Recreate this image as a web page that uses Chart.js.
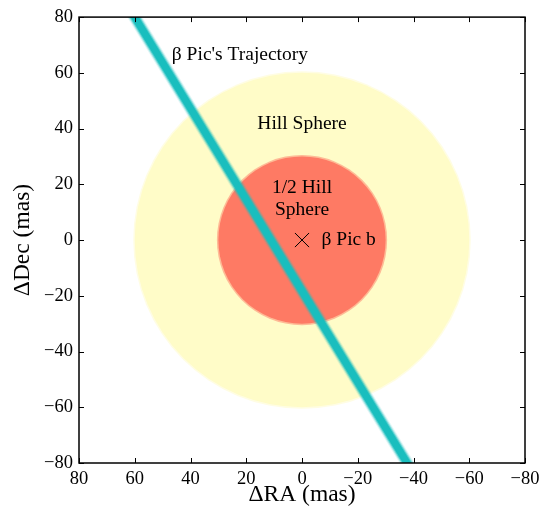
<!DOCTYPE html>
<html>
<head>
<meta charset="utf-8">
<script src="https://cdn.jsdelivr.net/npm/chart.js@4/dist/chart.umd.min.js"></script>
<style>
html,body{margin:0;padding:0;background:#fff;}
#wrap{width:544px;height:514px;}
</style>
</head>
<body>
<div id="wrap"><canvas id="c" width="544" height="514"></canvas></div>
<script>
// ---- data (mas) ----
const hillRadius = 60;
const halfHillRadius = 30;
const planetX = [0];
const planetY = [0];
const trajX = [60, -37.7];
const trajY = [80, -80];
const tickValues = [-80, -60, -40, -20, 0, 20, 40, 60, 80];
const labelTexts = ["β Pic's Trajectory", "Hill Sphere", "1/2 Hill", "Sphere", "β Pic b"];
const labelX = [46.7, 0, 0, 0, -7];
const labelY = [66.5, 41.6, 18.7, 11, 0];
const labelAlign = ["left", "center", "center", "center", "left"];

const serif = "'Liberation Serif', 'DejaVu Serif', serif";
const fmt = v => (v < 0 ? "\u2212" + Math.abs(v) : String(v));

function radiusPx(ctx, r) {
  const s = ctx.chart.scales.x;
  if (!s) return 0;
  return Math.abs(s.getPixelForValue(r) - s.getPixelForValue(0));
}

const planetPts = planetX.map((x, i) => ({x, y: planetY[i]}));
const trajPts = trajX.map((x, i) => ({x, y: trajY[i]}));

function trajLayer(width, color, order) {
  return {
    type: 'line', data: trajPts, showLine: true, borderColor: color, borderWidth: width,
    pointRadius: 0, borderCapStyle: 'square', clip: 0, fill: false, order
  };
}
function disc(r, extra, color, order) {
  const f = c => radiusPx(c, r) + extra;
  return { data: planetPts, pointRadius: f, pointHoverRadius: f, backgroundColor: color, borderWidth: 0, order };
}

const framePlugin = {
  id: 'frame',
  afterDatasetsDraw(chart) {
    const {ctx, chartArea: a, scales} = chart;
    ctx.save();
    ctx.fillStyle = '#000';
    ctx.font = "19.5px " + serif;
    ctx.textBaseline = 'middle';
    labelTexts.forEach((t, i) => {
      ctx.textAlign = labelAlign[i];
      ctx.fillText(t, scales.x.getPixelForValue(labelX[i]), scales.y.getPixelForValue(labelY[i]));
    });
    ctx.strokeStyle = '#000';
    ctx.lineWidth = 1.5;
    ctx.strokeRect(a.left, a.top, a.right - a.left, a.bottom - a.top);
    ctx.lineWidth = 1;
    const L = 5;
    tickValues.forEach(v => {
      const px = Math.round(scales.x.getPixelForValue(v)) + 0.5;
      ctx.beginPath();
      ctx.moveTo(px, a.bottom); ctx.lineTo(px, a.bottom - L);
      ctx.moveTo(px, a.top); ctx.lineTo(px, a.top + L);
      ctx.stroke();
      const py = Math.round(scales.y.getPixelForValue(v)) + 0.5;
      ctx.beginPath();
      ctx.moveTo(a.left, py); ctx.lineTo(a.left + L, py);
      ctx.moveTo(a.right, py); ctx.lineTo(a.right - L, py);
      ctx.stroke();
    });
    ctx.restore();
  }
};

new Chart(document.getElementById('c'), {
  type: 'scatter',
  data: {
    datasets: [
      disc(hillRadius, 1.5, 'rgba(255,252,200,0.5)', 20),
      disc(hillRadius, 0, 'rgb(255,252,200)', 19),
      disc(halfHillRadius, 1.5, 'rgba(254,122,100,0.5)', 18),
      disc(halfHillRadius, 0, 'rgb(254,122,100)', 17),
      trajLayer(13, 'rgba(25,190,190,0.12)', 16),
      trajLayer(11, 'rgba(25,190,190,0.3)', 15),
      trajLayer(9, 'rgba(25,190,190,0.6)', 14),
      trajLayer(7, 'rgb(25,190,190)', 13),
      { data: planetPts, pointStyle: 'crossRot', pointRadius: 10, pointHoverRadius: 10, borderColor: '#000', borderWidth: 1, backgroundColor: '#000', order: 1 }
    ]
  },
  options: {
    responsive: false,
    animation: false,
    events: [],
    layout: { padding: { top: 17, right: 19, left: 0, bottom: 0 } },
    plugins: { legend: { display: false }, tooltip: { enabled: false } },
    scales: {
      x: {
        type: 'linear', reverse: true, min: -80, max: 80,
        afterBuildTicks: s => { s.ticks = tickValues.map(v => ({value: v})); },
        afterFit: s => { s.height = 51; },
        grid: { display: false, drawTicks: false },
        border: { display: false },
        ticks: { padding: 5, color: '#000', font: { family: serif, size: 18.5 }, callback: v => fmt(v), maxRotation: 0, autoSkip: false },
        title: { display: true, text: 'ΔRA (mas)', color: '#000', font: { family: serif, size: 23.5 }, padding: { top: 0, bottom: 5 } }
      },
      y: {
        type: 'linear', min: -80, max: 80,
        afterBuildTicks: s => { s.ticks = tickValues.map(v => ({value: v})); },
        afterFit: s => { s.width = 79; },
        grid: { display: false, drawTicks: false },
        border: { display: false },
        ticks: { padding: 6, color: '#000', font: { family: serif, size: 18.5 }, callback: v => fmt(v), autoSkip: false },
        title: { display: true, text: 'ΔDec (mas)', color: '#000', font: { family: serif, size: 23.5 }, padding: { top: 9, bottom: 0 } }
      }
    }
  },
  plugins: [framePlugin]
});
</script>
</body>
</html>
